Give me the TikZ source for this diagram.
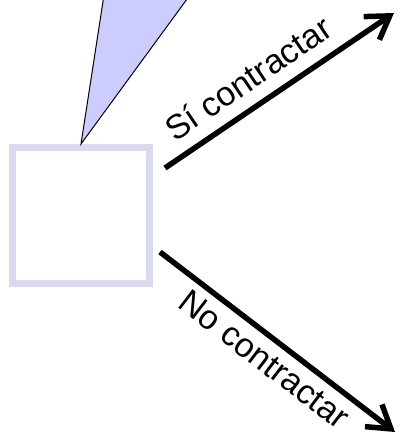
\documentclass[tikz,border=0pt]{standalone}
\usepackage{fontspec}
\setmainfont{Liberation Sans}
\usepackage{xcolor}
\usepackage{tikz}
\usetikzlibrary{arrows.meta, positioning, calc}

\definecolor{boxlila}{RGB}{218,218,238}
\definecolor{triblue}{RGB}{204,204,255}

\begin{document}
\begin{tikzpicture}[x=1pt, y=-1pt, >={Straight Barb[length=22pt, width=28pt]},
    font=\fontsize{34}{40}\selectfont]
    \useasboundingbox (0,0) rectangle (399,443);
    \begin{scope}
    \clip (0,0) rectangle (399,443);

    \node[draw=boxlila, line width=7pt, minimum width=137pt, minimum height=136pt, inner sep=0pt] (box) at (81,215.5) {};

    % callout wedge
    \fill[triblue] (104,-5) -- (box.north) -- (190,-5) -- cycle;
    \draw[line width=1pt] (104,-5) -- (box.north) -- (190,-5);

    \coordinate (siA) at (165,168);
    \coordinate (siB) at (394,13);
    \coordinate (noA) at (160,252);
    \coordinate (noB) at (395,432);

    \draw[->, line width=5.5pt] (siA) -- (siB) node[pos=0.43, sloped, above=9pt] (si) {Sí contractar};
    \draw[->, line width=5.5pt] (noA) -- (noB) node[pos=0.5, sloped, below=4pt] (no) {No contractar};
    \end{scope}
\end{tikzpicture}
\end{document}
